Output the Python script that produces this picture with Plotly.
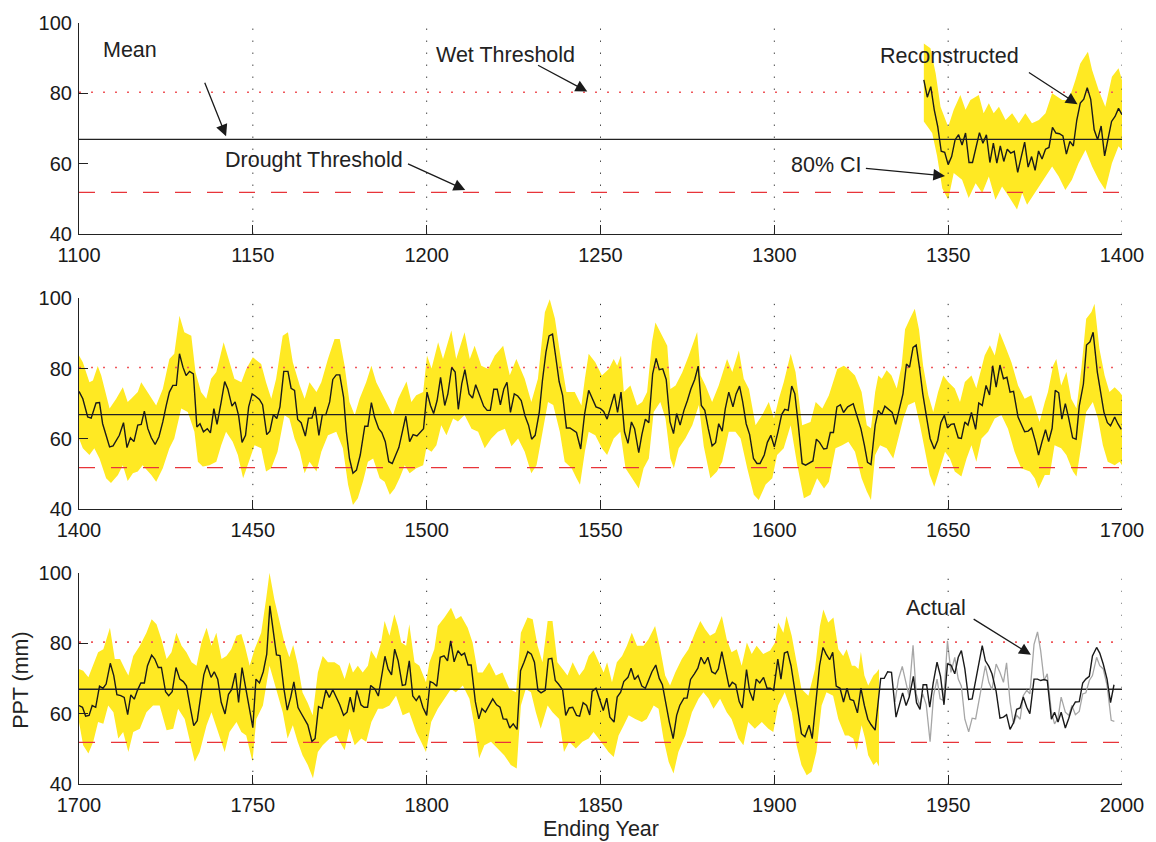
import plotly.graph_objects as go

# ---------------- thresholds ----------------
MEAN = 66.9
WET = 80.3
DROUGHT = 51.8

# ---------------- panel 1 (1100-1400) ----------------
p1_years = list(range(1343, 1401))
p1_recon = [83.8, 78.9, 81.9, 75.3, 70.5, 63.5, 63.2, 59.7, 62.0, 66.8, 68.2, 65.3, 68.7, 60.3, 60.3,
            64.4, 68.8, 65.8, 68.2, 60.3, 65.8, 60.1, 65.0, 60.6, 64.1, 63.0, 63.5, 57.5, 61.8, 66.1,
            59.0, 62.0, 58.1, 63.6, 61.3, 64.1, 64.6, 70.3, 68.7, 68.5, 67.9, 62.7, 66.3, 65.0, 72.4,
            77.2, 78.3, 81.6, 78.3, 69.6, 66.8, 70.7, 62.2, 67.2, 72.0, 73.4, 75.7, 73.9]
p1_up_years = [1343, 1344.9, 1346.4, 1347.8, 1350, 1351.6, 1353.5, 1355, 1356.4, 1358.8, 1360.2, 1361.7,
               1363.1, 1364.6, 1366.5, 1368.4, 1370.3, 1372.2, 1374.1, 1376.1, 1378, 1379.9, 1382.8,
               1384.7, 1386.6, 1388, 1390.2, 1391.4, 1393.3, 1395.2, 1397.1, 1399, 1400]
p1_upper = [94.2, 92.8, 85.7, 76.2, 70.5, 75.3, 79.5, 75.3, 78.1, 79.5, 74.3, 77.2, 74.3, 76.2, 72.4,
            74.3, 71.5, 74.3, 71.5, 72.4, 74.3, 80.0, 78.1, 78.1, 83.8, 88.5, 91.8, 86.6, 80.9, 76.2,
            84.7, 87.1, 83.8]
p1_lo_years = [1343, 1345.4, 1346.8, 1348.3, 1350, 1351.6, 1354, 1355.9, 1357.9, 1359.8, 1361.7, 1363.6,
               1365.5, 1367.4, 1369.8, 1371.3, 1372.7, 1374.1, 1376.1, 1378, 1379.9, 1381.8, 1383.7,
               1385.6, 1387.5, 1389.5, 1391.4, 1393.3, 1395.2, 1397.1, 1399, 1400]
p1_lower = [72.0, 68.7, 62.2, 53.0, 49.7, 57.3, 55.4, 50.2, 54.4, 51.6, 56.3, 49.7, 53.5, 50.7, 46.9,
            51.6, 48.3, 50.7, 53.5, 56.3, 59.2, 56.3, 52.5, 55.4, 60.1, 63.9, 59.2, 55.4, 52.5, 60.1,
            64.9, 63.9]

# ---------------- panel 2 (1400-1700) ----------------
p2_years = [1400.0, 1401.1, 1402.5, 1403.5, 1404.9, 1405.9, 1406.8, 1408.8, 1409.8, 1411.6, 1412.8, 1413.8,
            1414.8, 1415.8, 1416.9, 1417.9, 1418.8, 1419.8, 1420.8, 1421.9, 1423.0, 1424.1, 1425.1, 1426.0,
            1427.0, 1428.0, 1428.9, 1429.9, 1430.8, 1431.8, 1432.9, 1433.9, 1434.8, 1435.8, 1436.9, 1437.8,
            1438.8, 1439.7, 1440.9, 1441.9, 1442.8, 1444.0, 1444.9, 1445.9, 1446.9, 1447.9, 1448.8, 1449.8,
            1450.7, 1451.9, 1452.8, 1454.0, 1454.9, 1455.9, 1456.9, 1457.8, 1458.9, 1460.1, 1461.0, 1462.0,
            1462.9, 1463.9, 1465.1, 1466.0, 1467.0, 1467.9, 1469.0, 1470.0, 1471.0, 1472.1, 1473.0, 1474.0,
            1475.0, 1476.1, 1476.9, 1477.8, 1478.8, 1479.8, 1480.9, 1482.2, 1483.1, 1484.1, 1485.0, 1486.2,
            1487.1, 1488.1, 1489.1, 1490.1, 1491.1, 1492.0, 1493.0, 1494.0, 1495.1, 1496.1, 1497.2, 1498.2,
            1499.1, 1500.1, 1501.1, 1502.0, 1503.0, 1504.0, 1505.2, 1506.1, 1507.2, 1508.2, 1509.1, 1510.1,
            1511.0, 1512.2, 1513.2, 1514.1, 1515.3, 1516.4, 1517.4, 1518.3, 1519.3, 1520.3, 1521.2, 1522.2,
            1523.1, 1524.1, 1525.2, 1526.2, 1527.2, 1528.3, 1529.3, 1530.2, 1531.2, 1532.4, 1533.3, 1534.3,
            1535.2, 1536.2, 1537.1, 1538.1, 1539.1, 1540.2, 1541.2, 1542.1, 1543.1, 1544.3, 1545.4, 1546.6,
            1547.6, 1548.7, 1550.0, 1550.9, 1551.9, 1552.8, 1554.0, 1554.9, 1555.9, 1556.9, 1557.9, 1558.9,
            1559.8, 1561.0, 1561.9, 1562.9, 1563.9, 1565.0, 1566.0, 1566.9, 1567.9, 1568.9, 1570.0, 1571.0,
            1571.9, 1572.9, 1574.0, 1575.0, 1576.0, 1577.1, 1578.1, 1579.0, 1580.0, 1581.0, 1582.1, 1583.1,
            1584.0, 1585.0, 1585.9, 1586.9, 1588.1, 1589.0, 1590.0, 1590.9, 1591.9, 1592.9, 1594.0, 1595.0,
            1595.9, 1597.1, 1598.0, 1599.0, 1600.0, 1601.1, 1602.1, 1603.0, 1604.0, 1605.0, 1605.9, 1606.9,
            1608.0, 1609.0, 1609.9, 1611.1, 1612.1, 1613.0, 1614.2, 1615.1, 1616.1, 1617.0, 1618.0, 1619.0,
            1619.9, 1621.1, 1622.7, 1623.7, 1624.9, 1625.9, 1626.8, 1627.8, 1629.0, 1629.9, 1630.9, 1631.8,
            1633.0, 1633.9, 1634.9, 1635.8, 1637.0, 1638.0, 1638.9, 1639.9, 1640.8, 1641.8, 1642.7, 1643.7,
            1644.8, 1646.0, 1647.0, 1647.9, 1648.9, 1649.8, 1650.8, 1651.7, 1652.9, 1653.8, 1654.8, 1655.7,
            1656.7, 1657.9, 1658.8, 1659.8, 1660.9, 1661.9, 1662.8, 1663.8, 1664.9, 1665.9, 1666.9, 1667.8,
            1668.8, 1670.1, 1671.1, 1672.0, 1673.0, 1674.0, 1675.1, 1676.0, 1677.0, 1678.0, 1678.9, 1679.9,
            1680.8, 1681.8, 1682.7, 1683.7, 1684.6, 1685.8, 1686.8, 1687.7, 1688.9, 1689.8, 1690.8, 1691.7,
            1692.9, 1693.8, 1694.8, 1695.8, 1696.7, 1697.9, 1698.8, 1699.8]
p2_recon = [73.5, 71.4, 66.2, 65.9, 70.2, 70.3, 64.3, 57.7, 58.0, 61.0, 64.6, 57.5,
            60.3, 59.2, 63.9, 64.1, 67.9, 62.9, 60.3, 58.4, 60.6, 64.8, 69.5, 73.3,
            75.2, 75.2, 84.2, 80.4, 78.0, 79.2, 78.5, 63.4, 64.3, 62.0, 62.9, 61.7,
            68.6, 64.1, 70.5, 76.3, 74.2, 69.3, 70.5, 66.7, 59.0, 61.0, 69.1, 72.8,
            72.2, 71.2, 69.7, 61.2, 62.2, 66.9, 65.8, 69.1, 79.2, 79.2, 74.4, 73.8,
            65.5, 64.6, 60.8, 65.9, 65.9, 69.1, 61.0, 66.9, 66.9, 70.5, 76.9, 78.2,
            78.2, 71.9, 62.0, 54.4, 50.2, 51.1, 55.4, 63.6, 63.6, 70.3, 66.2, 62.9,
            61.8, 59.2, 53.5, 53.0, 55.4, 57.5, 62.0, 66.5, 59.2, 61.2, 60.8, 62.0,
            62.9, 73.3, 69.5, 67.2, 70.9, 77.5, 69.5, 72.8, 80.3, 79.0, 68.4, 75.7,
            79.7, 72.8, 71.6, 75.4, 71.9, 69.3, 68.1, 68.1, 74.1, 74.1, 69.7, 74.2,
            76.1, 67.5, 72.8, 72.2, 70.9, 66.5, 63.9, 59.9, 61.0, 67.6, 76.6, 84.6,
            89.3, 89.8, 83.5, 76.3, 72.4, 63.1, 63.1, 62.5, 61.8, 57.1, 66.9, 73.8,
            71.4, 69.1, 68.6, 67.8, 65.6, 68.4, 72.8, 67.5, 73.3, 62.0, 58.7, 64.8,
            62.9, 56.1, 61.2, 65.6, 64.6, 78.5, 82.9, 79.7, 79.9, 76.9, 64.8, 61.5,
            67.2, 63.9, 68.1, 70.9, 74.2, 76.9, 80.7, 69.5, 68.1, 62.9, 58.0, 58.9,
            64.3, 62.2, 68.6, 73.3, 69.1, 72.8, 75.0, 70.5, 64.3, 61.2, 54.4, 53.0,
            53.0, 55.4, 59.0, 61.0, 57.7, 62.2, 66.9, 68.4, 68.1, 75.0, 72.8, 63.9,
            53.0, 52.5, 53.0, 53.7, 59.9, 59.0, 57.1, 57.3, 61.8, 61.8, 69.1, 69.7,
            67.5, 69.1, 70.0, 66.7, 62.9, 58.2, 53.3, 52.7, 63.9, 68.1, 66.9, 69.3,
            68.4, 67.5, 64.1, 67.5, 72.8, 81.3, 80.4, 86.0, 86.7, 79.9, 72.8, 66.7,
            60.1, 57.1, 59.6, 64.6, 66.7, 63.1, 64.1, 64.3, 60.3, 60.1, 64.8, 63.9,
            67.5, 62.7, 70.2, 69.5, 75.2, 72.5, 80.8, 74.7, 81.0, 77.1, 77.5, 73.3,
            73.5, 66.2, 63.9, 62.0, 62.2, 63.1, 59.2, 55.4, 59.2, 62.6, 59.2, 63.0,
            73.8, 73.1, 65.6, 70.0, 66.2, 60.3, 59.9, 69.3, 75.6, 86.7, 87.6, 90.3,
            79.0, 73.3, 67.6, 64.6, 63.7, 66.2, 64.3, 62.7]
p2_up_years = [1400, 1401.1, 1403, 1404, 1405.4, 1406.4, 1408.8, 1410.7, 1412.6, 1414, 1415, 1416.9, 1417.9,
               1420.3, 1422.2, 1424.1, 1426, 1427.4, 1428.9, 1430.3, 1432.3, 1433.5, 1435.1, 1436.6, 1438,
               1439.5, 1441.6, 1443.3, 1444.7, 1446.7, 1448.1, 1450, 1452.4, 1453.8, 1455.3, 1456.7, 1458.6,
               1460.1, 1461.5, 1463.5, 1464.9, 1466.3, 1468.3, 1469.7, 1471.6, 1473.5, 1475, 1476.4, 1477.8,
               1479.3, 1480.7, 1482.6, 1484.1, 1485.5, 1486.9, 1488.9, 1490.3, 1491.8, 1494.2, 1495.6, 1497,
               1499, 1500.1, 1501.4, 1503.3, 1504.7, 1507.1, 1508.5, 1510.9, 1512.4, 1513.8, 1515.7, 1517.7,
               1519.6, 1522, 1523.9, 1525.8, 1528.2, 1530.1, 1532, 1534, 1535.4, 1536.9, 1538.3, 1540.2,
               1542.6, 1544.5, 1545.5, 1546.6, 1548.5, 1550.4, 1552.4, 1553.8, 1554.8, 1555.9, 1556.7,
               1558.6, 1560.5, 1562, 1563.4, 1564.8, 1565.8, 1567.7, 1569.2, 1570.1, 1571.6, 1573.5, 1575.4,
               1577.8, 1578.8, 1580.2, 1582.1, 1584, 1586.4, 1587.9, 1589.8, 1591.2, 1592.7, 1594.6, 1596.5,
               1598.4, 1599.9, 1601.3, 1602.7, 1604.7, 1606.1, 1608, 1610.4, 1611.9, 1613.8, 1615.7, 1618.1,
               1620, 1621.3, 1623.2, 1625.1, 1626.6, 1627.8, 1629, 1629.9, 1630.9, 1632.3, 1633.7, 1635.2,
               1636.6, 1637.6, 1639, 1640.4, 1641.6, 1642.8, 1644.3, 1645.7, 1647.1, 1648.6, 1650, 1651.9,
               1653.4, 1654.8, 1656.7, 1658.1, 1660.5, 1662, 1663.4, 1664.8, 1666.3, 1668.2, 1670.1, 1672,
               1673.9, 1675.4, 1676.3, 1677.8, 1678.7, 1680.2, 1681.1, 1682.5, 1684, 1685.4, 1686.9, 1688.3,
               1689.7, 1691.2, 1692.1, 1693.5, 1695, 1696.4, 1697.9, 1699.3, 1700]
p2_upper = [83.7, 81.8, 76.1, 76.6, 80.7, 78.0, 68.6, 71.4, 74.7, 70.5, 71.4, 73.3, 76.1,
            72.4, 69.5, 74.2, 82.7, 84.2, 95.0, 90.3, 89.3, 79.0, 73.3, 71.4, 77.1,
            79.0, 87.5, 81.8, 77.1, 76.1, 79.9, 83.2, 81.3, 76.1, 71.4, 77.1, 89.3,
            90.3, 81.8, 75.2, 71.4, 76.1, 73.3, 76.1, 82.7, 88.4, 88.4, 80.8, 70.5,
            66.7, 71.4, 76.1, 80.8, 76.1, 73.3, 69.5, 66.7, 71.4, 76.3, 70.5, 72.4,
            73.3, 83.7, 80.0, 87.5, 82.7, 90.8, 82.7, 90.3, 82.7, 86.5, 80.8, 79.9,
            83.7, 86.5, 78.1, 82.7, 77.1, 70.5, 77.1, 96.0, 99.7, 94.2, 84.7, 73.3,
            73.3, 69.5, 77.1, 84.2, 81.8, 78.0, 79.9, 82.7, 80.8, 83.7, 73.3,
            75.2, 69.5, 70.5, 73.3, 87.5, 93.1, 89.3, 86.5, 74.2, 75.2, 78.9, 83.7,
            90.4, 78.0, 75.2, 70.5, 75.2, 82.7, 79.0, 85.1, 77.1, 74.2, 63.9, 66.8,
            70.5, 65.8, 71.4, 76.1, 84.2, 79.0, 63.9, 64.8, 70.5, 68.6, 72.4, 79.9,
            80.8, 79.9, 78.0, 73.3, 63.9, 63.0, 73.3, 78.0, 77.1, 79.5, 78.0, 74.3,
            80.8, 91.2, 94.2, 97.0, 91.2, 80.8, 72.4, 67.6, 73.3, 78.0, 76.2, 74.3,
            70.5, 76.2, 78.0, 74.4, 83.7, 86.6, 83.7, 90.3, 86.6, 81.8, 75.2, 71.4,
            72.4, 67.7, 64.8, 70.5, 73.3, 80.9, 82.7, 75.2, 79.0, 71.4, 68.6, 79.9,
            94.2, 96.1, 98.4, 85.6, 78.0, 73.3, 74.7, 73.3, 72.4]
p2_lo_years = [1400, 1401.1, 1403, 1404.4, 1405.9, 1407.8, 1409.2, 1411.2, 1412.6, 1414, 1415.5, 1416.9,
               1418.3, 1420.8, 1422.2, 1424.1, 1426, 1427.4, 1429.4, 1431.3, 1433.2, 1434.2, 1435.6, 1437.5,
               1439.5, 1440.9, 1442.3, 1444.2, 1445.7, 1447.2, 1448.6, 1450.5, 1452.4, 1453.8, 1455.3,
               1457.1, 1459.1, 1460.5, 1462, 1463.5, 1464.9, 1466.3, 1468.3, 1469.7, 1471.6, 1474, 1475.9,
               1477.4, 1478.8, 1480.2, 1481.7, 1483.1, 1484.6, 1486.5, 1487.9, 1489.4, 1490.8, 1492.2,
               1493.7, 1495.1, 1497, 1499, 1499.9, 1501.4, 1502.8, 1504.2, 1505.7, 1507.6, 1509, 1510.9,
               1512.9, 1514.8, 1516.7, 1518.6, 1520.5, 1522.5, 1524.4, 1526.3, 1528.2, 1530.1, 1531.6,
               1533.5, 1534.9, 1536.4, 1538.3, 1539.7, 1541.7, 1543.1, 1544.1, 1545.5, 1546.6, 1548.5,
               1550.4, 1551.9, 1553.8, 1555.7, 1557.2, 1559.1, 1561, 1562.4, 1563.9, 1565.3, 1567.2, 1568.7,
               1570.1, 1571.1, 1572.5, 1574.4, 1576.4, 1578.3, 1579.7, 1581.6, 1583.5, 1585, 1586.9, 1588.8,
               1590.3, 1592.2, 1594.1, 1595.5, 1597.5, 1599.4, 1600.8, 1602.7, 1604.7, 1606.6, 1608.5,
               1610.4, 1612.3, 1614.3, 1615.7, 1617.6, 1619.5, 1621.3, 1623.2, 1625.1, 1626.6, 1627.8, 1629,
               1630.4, 1632.3, 1634.2, 1635.7, 1637.1, 1638.5, 1640.4, 1641.9, 1643.3, 1644.7, 1646, 1647.6,
               1649.1, 1650.5, 1651.9, 1653.8, 1655.3, 1656.7, 1658.1, 1659.6, 1661.5, 1663.4, 1665.3,
               1667.2, 1669.1, 1671, 1673.5, 1674.9, 1676, 1677.8, 1679.2, 1680.6, 1682.5, 1684, 1685.9,
               1686.9, 1688.3, 1689.7, 1691.6, 1693.1, 1694.5, 1695.9, 1697.9, 1699.3, 1700]
p2_lower = [60.1, 57.3, 55.4, 57.3, 54.4, 48.8, 47.4, 49.7, 52.5, 48.0, 50.2, 50.7,
            52.5, 49.7, 47.8, 51.6, 57.3, 60.1, 68.6, 67.6, 62.0, 53.5, 52.1, 52.5,
            53.5, 58.2, 62.0, 59.2, 55.4, 48.8, 52.5, 58.2, 57.3, 50.7, 51.6,
            56.3, 66.7, 65.8, 60.1, 56.3, 50.2, 53.5, 50.7, 56.3, 61.0, 62.0, 57.3,
            46.9, 41.2, 43.1, 47.9, 53.5, 54.4, 48.8, 47.8, 44.1, 45.9, 48.8,
            52.5, 50.2, 51.6, 52.5, 57.3, 56.3, 58.2, 63.9, 61.0, 65.8, 64.9, 66.8,
            62.9, 62.0, 57.3, 60.1, 62.0, 62.9, 57.9, 60.1, 56.3, 50.2, 52.5,
            62.9, 70.5, 69.6, 62.0, 53.5, 51.6, 48.8, 46.9, 56.3, 62.0, 61.0,
            57.3, 55.4, 60.1, 62.0, 51.6, 48.8, 45.9, 51.6, 54.4, 67.6, 70.5, 65.8,
            54.4, 51.6, 57.3, 60.1, 63.9, 69.6, 57.9, 48.8, 50.7, 53.5, 62.0, 62.0,
            60.1, 51.6, 44.1, 42.6, 47.0, 48.8, 55.4, 57.3, 63.9, 52.5, 43.1,
            44.1, 48.8, 45.9, 47.8, 57.3, 58.2, 59.2, 56.3, 48.8, 45.0, 42.6, 55.4,
            58.2, 57.3, 54.4, 60.1, 65.8, 69.6, 70.5, 63.9, 57.3, 49.7, 46.4, 51.6,
            56.3, 54.4, 50.7, 49.3, 54.4, 58.2, 53.5, 60.1, 62.0, 65.8, 66.8,
            62.9, 56.3, 51.6, 50.7, 48.8, 45.9, 49.7, 49.7, 58.2, 57.3, 55.4, 50.7,
            49.3, 58.2, 67.6, 70.5, 65.8, 58.2, 53.5, 52.5, 53.5, 52.5]

# ---------------- panel 3 (1700-2000) ----------------
p3_years = [1700.0, 1701.0, 1701.9, 1702.9, 1703.8, 1704.8, 1705.9, 1706.9, 1707.8, 1709.0, 1710.0, 1710.9,
            1712.0, 1713.0, 1714.0, 1714.9, 1715.9, 1716.8, 1717.8, 1718.8, 1719.7, 1720.9, 1721.8, 1722.8,
            1723.7, 1724.9, 1725.8, 1726.8, 1727.9, 1729.0, 1730.0, 1730.9, 1732.1, 1733.0, 1734.0, 1734.9,
            1735.9, 1736.8, 1738.0, 1738.9, 1739.9, 1740.9, 1742.0, 1743.0, 1743.9, 1745.0, 1745.9, 1746.9,
            1747.8, 1748.8, 1750.0, 1750.9, 1751.9, 1753.0, 1754.0, 1754.9, 1755.9, 1756.8, 1757.8, 1758.9,
            1759.9, 1760.9, 1761.8, 1763.0, 1763.9, 1764.9, 1765.8, 1767.0, 1767.9, 1768.9, 1769.9, 1771.0,
            1772.0, 1773.0, 1774.0, 1775.0, 1776.1, 1777.1, 1778.0, 1779.0, 1779.9, 1781.1, 1782.0, 1783.0,
            1783.9, 1785.1, 1786.1, 1787.0, 1788.0, 1788.9, 1789.9, 1790.8, 1791.8, 1793.0, 1793.9, 1795.0,
            1796.0, 1797.0, 1797.9, 1798.9, 1800.0, 1801.0, 1801.9, 1802.9, 1803.9, 1805.0, 1806.0, 1806.9,
            1807.9, 1809.0, 1810.0, 1810.9, 1811.9, 1812.8, 1814.0, 1815.0, 1815.9, 1816.9, 1818.0, 1819.0,
            1820.1, 1821.1, 1822.0, 1823.0, 1823.9, 1824.9, 1826.0, 1827.0, 1828.0, 1829.1, 1830.1, 1831.0,
            1832.0, 1832.9, 1834.1, 1835.0, 1836.0, 1837.0, 1837.9, 1839.1, 1840.0, 1841.0, 1842.0, 1843.1,
            1844.0, 1845.0, 1846.0, 1846.9, 1847.6, 1848.7, 1849.7, 1850.8, 1851.8, 1852.7, 1853.9, 1854.8,
            1855.8, 1856.7, 1857.9, 1858.8, 1859.8, 1860.8, 1861.9, 1862.9, 1863.8, 1864.8, 1865.9, 1866.9,
            1867.8, 1868.8, 1869.8, 1870.9, 1871.9, 1872.8, 1874.0, 1874.9, 1875.9, 1877.0, 1878.0, 1878.9,
            1879.9, 1880.9, 1882.0, 1883.0, 1883.9, 1884.9, 1885.8, 1887.0, 1887.9, 1888.9, 1889.9, 1890.8,
            1892.0, 1892.9, 1893.9, 1894.8, 1895.8, 1896.9, 1897.9, 1898.8, 1899.8, 1901.0, 1901.9, 1902.9,
            1903.8, 1904.8, 1905.9, 1906.9, 1907.8, 1908.8, 1910.0, 1910.9, 1911.9, 1913.0, 1914.0, 1914.9,
            1915.9, 1916.8, 1917.8, 1918.9, 1919.9, 1920.9, 1921.8, 1922.8, 1923.9, 1924.9, 1925.9, 1926.9,
            1927.8, 1929.0, 1930.6, 1931.6, 1932.6, 1933.7, 1935.0, 1936.0, 1936.9, 1937.9, 1938.8, 1940.0,
            1940.9, 1941.9, 1942.8, 1943.8, 1944.7, 1945.7, 1946.8, 1947.8, 1948.8, 1949.8, 1950.8, 1951.9,
            1952.9, 1953.8, 1954.8, 1955.9, 1956.9, 1957.9, 1958.8, 1959.8, 1960.7, 1961.7, 1962.6, 1963.8,
            1964.9, 1965.9, 1966.8, 1967.8, 1968.8, 1969.7, 1970.7, 1971.6, 1972.6, 1973.5, 1974.7, 1975.7,
            1976.6, 1977.6, 1978.5, 1979.7, 1980.6, 1981.6, 1982.5, 1983.7, 1984.7, 1985.6, 1986.6, 1987.7,
            1988.7, 1989.6, 1990.6, 1991.5, 1992.7, 1993.6, 1994.6, 1995.7, 1996.7, 1997.7]
p3_recon = [62.3, 61.8, 59.3, 59.5, 62.3, 61.8, 67.8, 67.2, 68.4, 74.3, 70.8, 65.4,
            65.1, 64.6, 59.7, 65.3, 64.1, 66.6, 68.7, 68.7, 73.6, 76.6, 75.5, 73.1,
            73.1, 66.2, 65.1, 66.2, 73.1, 69.8, 69.1, 67.9, 61.3, 56.6, 58.0, 63.7,
            71.0, 73.8, 70.3, 71.9, 69.8, 63.2, 59.9, 65.5, 66.8, 71.5, 63.2, 73.1,
            68.4, 62.8, 56.0, 69.8, 68.7, 71.9, 76.9, 90.6, 82.6, 76.7, 76.5, 67.3,
            61.0, 64.7, 69.0, 61.7, 60.1, 58.2, 56.8, 52.1, 52.9, 62.0, 61.5, 66.7,
            64.6, 66.8, 64.7, 62.5, 59.5, 60.4, 64.7, 60.4, 66.6, 62.5, 61.8, 61.8,
            68.0, 67.0, 65.0, 71.0, 76.3, 72.7, 71.0, 78.3, 75.0, 68.0, 68.2, 75.0,
            65.0, 63.7, 65.1, 61.8, 59.5, 69.1, 68.7, 67.8, 76.0, 76.4, 75.0, 80.7,
            74.7, 77.9, 76.6, 77.2, 73.8, 73.8, 63.4, 58.5, 61.4, 60.4, 62.5, 64.2,
            62.5, 61.8, 58.5, 58.4, 55.9, 57.1, 55.5, 72.2, 74.6, 77.6, 76.9, 74.6,
            66.6, 65.9, 66.6, 75.5, 75.7, 69.4, 68.4, 66.8, 59.5, 61.6, 61.8, 59.5,
            59.3, 63.1, 62.3, 59.6, 66.3, 67.2, 64.2, 60.9, 64.4, 59.0, 57.6, 64.7,
            66.1, 69.1, 70.3, 72.9, 69.7, 70.8, 67.8, 67.2, 69.4, 71.9, 73.8, 70.0,
            68.2, 62.3, 57.6, 52.9, 59.5, 62.3, 64.4, 64.4, 69.7, 71.3, 72.9, 76.0,
            74.1, 76.0, 71.9, 71.3, 72.7, 77.6, 73.6, 67.5, 68.9, 68.2, 63.4, 61.6,
            72.5, 66.3, 63.7, 69.8, 68.7, 70.3, 67.2, 67.2, 66.6, 75.5, 69.8, 77.2,
            77.6, 73.6, 66.6, 59.5, 54.3, 53.4, 56.7, 52.9, 62.3, 73.6, 78.8, 76.9,
            75.3, 77.4, 67.8, 67.2, 63.3, 67.2, 64.0, 63.7, 60.2, 67.2, 62.3, 58.4,
            56.9, 55.3, 70.0, 70.0, 71.9, 71.7, 59.0, 62.3, 65.9, 62.3, 64.7, 70.6,
            63.1, 61.2, 68.2, 68.2, 61.8, 68.7, 74.6, 70.6, 62.5, 74.1, 73.8, 71.3,
            76.0, 77.9, 72.7, 64.0, 64.2, 69.4, 73.8, 79.3, 75.0, 73.4, 71.3, 66.3,
            58.7, 59.0, 59.7, 55.5, 57.4, 61.2, 61.6, 64.7, 61.8, 60.0, 69.8, 69.8,
            69.4, 69.7, 69.4, 58.4, 60.4, 57.6, 60.4, 55.9, 58.7, 61.6, 63.3, 63.4,
            68.7, 69.8, 70.6, 76.4, 78.8, 77.2, 74.1, 69.8, 63.1, 68.2]
p3_up_years = [1700, 1701.2, 1702.7, 1704.1, 1705.5, 1707, 1708.9, 1710.3, 1711.8, 1713.2, 1714.2, 1715.6,
               1717.5, 1719.4, 1720.9, 1722.3, 1723.7, 1725.2, 1726.6, 1728, 1729.5, 1730.9, 1732.4, 1733.8,
               1735.2, 1736.7, 1738.1, 1739.5, 1741, 1742.4, 1743.8, 1745.3, 1746.7, 1747.7, 1749.1, 1750.5,
               1752.4, 1753.8, 1754.8, 1756.2, 1757.6, 1759.1, 1760.5, 1761.6, 1762.9, 1764.3, 1765.8, 1767.2,
               1768.7, 1770.1, 1771.6, 1773.5, 1775, 1776.4, 1777.8, 1778.8, 1780.2, 1781.6, 1783.1, 1784,
               1785.5, 1786.9, 1787.9, 1789.3, 1790.7, 1791.7, 1792.7, 1794.1, 1795, 1796.5, 1797.9, 1799.8,
               1800.8, 1802.2, 1803.2, 1805.1, 1807, 1808.4, 1809.9, 1811.8, 1813.2, 1814.7, 1816.1, 1818,
               1819.9, 1821.8, 1823.8, 1825.7, 1827.1, 1829, 1830.5, 1831.9, 1833.3, 1834.8, 1836.2, 1837.6,
               1839.1, 1840.5, 1842, 1843.9, 1845.3, 1846.6, 1848, 1849.5, 1850.9, 1851.9, 1853.3, 1854.7,
               1856.2, 1857.6, 1859, 1860.5, 1862.4, 1863.8, 1865.7, 1867.2, 1868.6, 1870, 1871.5, 1873.4,
               1875.3, 1877.2, 1878.7, 1880.1, 1881.5, 1883, 1884.9, 1886.3, 1887.7, 1889.2, 1890.6, 1892.1,
               1893.5, 1894.9, 1896.8, 1898.8, 1900.2, 1901.1, 1902.6, 1903.5, 1905, 1906.4, 1907.8, 1909.8,
               1911.7, 1913.1, 1914.1, 1915.5, 1917, 1918.4, 1919.8, 1920.8, 1922.3, 1923.2, 1924.2, 1924.9,
               1925.9, 1927, 1928.5, 1929.4, 1930.1]
p3_upper = [72.7, 72.2, 70.3, 73.6, 77.4, 78.3, 84.4, 75.5, 75.5, 72.7, 70.8, 76.4,
            79.3, 83.0, 86.8, 85.4, 81.1, 75.5, 77.4, 83.0, 79.3, 77.4, 74.6, 73.6,
            80.2, 84.4, 79.3, 83.0, 75.5, 76.4, 78.3, 82.1, 82.6, 79.3, 73.6, 78.3,
            83.0, 92.4, 100.0, 92.4, 86.8, 80.2, 76.0, 79.5, 74.0, 66.0, 63.0, 59.5,
            71.7, 76.4, 74.6, 74.6, 73.6, 69.8, 74.6, 71.7, 73.6, 71.7, 73.6, 77.9,
            75.5, 80.2, 86.3, 82.1, 88.2, 84.9, 80.2, 79.3, 85.4, 74.6, 73.6, 68.9,
            74.6, 78.3, 84.9, 87.3, 90.1, 86.8, 87.7, 84.4, 80.2, 71.7, 71.7, 74.6,
            70.8, 71.7, 67.0, 66.1, 83.0, 87.3, 86.8, 79.3, 74.6, 86.3, 86.3, 74.6,
            72.7, 70.8, 74.6, 70.8, 72.7, 76.4, 77.9, 74.6, 71.7, 74.6, 68.9, 74.6,
            76.4, 79.3, 83.0, 79.3, 79.3, 81.1, 84.9, 78.3, 70.8, 68.0, 71.7, 75.5,
            78.3, 83.0, 86.3, 84.0, 82.1, 83.0, 87.7, 81.1, 77.4, 78.3, 73.6, 80.2,
            76.9, 79.3, 76.9, 77.9, 80.2, 85.9, 83.0, 87.7, 82.1, 74.6, 67.0, 65.1,
            72.7, 84.9, 89.6, 85.9, 87.3, 78.3, 76.4, 78.3, 73.6, 73.6, 72.7, 77.6,
            70.8, 68.0, 70.8, 71.7, 72.7]
p3_lo_years = [1700, 1701.2, 1702.7, 1704.1, 1705.5, 1707, 1708.4, 1709.9, 1711.3, 1712.7, 1714.2, 1715.6,
               1717.5, 1719.4, 1721.3, 1723.2, 1725.2, 1727.1, 1728.5, 1730.4, 1731.9, 1733.3, 1734.7,
               1736.7, 1738.1, 1740, 1741.9, 1743.3, 1745.3, 1746.7, 1748.1, 1749.9, 1751, 1752.9, 1754.8,
               1756.7, 1758.6, 1760, 1761.5, 1762.9, 1764.3, 1765.8, 1767.3, 1768.7, 1770.1, 1772.1, 1774,
               1776.4, 1777.8, 1779.3, 1781.2, 1782.6, 1784.1, 1786, 1787.4, 1789.3, 1791.2, 1793.1, 1795,
               1797, 1798.4, 1799.8, 1801.3, 1803.2, 1805.1, 1807, 1808.4, 1810.4, 1812.3, 1813.7, 1815.1,
               1816.6, 1818.5, 1820.4, 1822.3, 1824.2, 1825.9, 1827.1, 1828.5, 1830, 1831.4, 1832.8, 1834.8,
               1836.2, 1838.1, 1839.5, 1841, 1842.9, 1844.8, 1846.6, 1848, 1849.5, 1850.9, 1852.3, 1853.8,
               1855.2, 1856.7, 1858.1, 1860, 1861.9, 1863.3, 1865.3, 1866.7, 1868.1, 1869.6, 1871, 1872.4,
               1874.4, 1876.3, 1878.2, 1879.6, 1881.1, 1882.5, 1884.4, 1886.3, 1887.7, 1889.7, 1891.1,
               1892.5, 1894.4, 1896.4, 1898.3, 1899.7, 1901.1, 1903, 1905, 1906.4, 1907.8, 1909.3, 1910.7,
               1912.1, 1913.6, 1915, 1916.9, 1918.4, 1920.3, 1921.3, 1922.7, 1923.7, 1925.1, 1926.1, 1927,
               1928.5, 1929.4, 1930.1]
p3_lower = [57.6, 51.0, 48.7, 52.0, 57.6, 57.1, 62.3, 60.4, 52.9, 54.8, 49.1, 54.8,
            55.7, 60.4, 62.3, 62.3, 55.3, 55.7, 61.4, 58.5, 52.0, 46.3, 49.1,
            56.7, 60.4, 54.8, 49.1, 54.8, 57.6, 54.8, 53.8, 46.3, 58.5, 62.3, 73.6,
            67.0, 60.4, 52.9, 56.7, 52.0, 48.2, 45.4, 41.6, 49.1, 51.0, 52.9, 53.8,
            49.6, 55.7, 51.0, 52.9, 52.0, 57.6, 61.4, 61.4, 62.3, 65.1, 59.5, 60.4,
            54.8, 52.0, 49.1, 57.6, 61.4, 64.2, 67.0, 66.1, 68.0, 64.2, 56.7, 47.3,
            51.0, 52.0, 50.1, 48.2, 45.4, 44.4, 62.3, 67.0, 66.1, 60.4, 55.7, 62.3,
            60.4, 58.5, 49.1, 52.0, 50.1, 52.0, 52.9, 54.8, 52.9, 51.0, 49.1, 47.7,
            53.8, 56.7, 59.5, 58.5, 57.6, 58.5, 62.3, 61.4, 52.9, 46.3, 43.0, 49.1,
            53.8, 60.4, 64.2, 66.1, 64.2, 61.4, 64.2, 60.4, 58.5, 52.9, 51.0,
            57.6, 55.7, 57.6, 55.7, 54.8, 62.3, 66.1, 60.4, 51.0, 45.4, 42.5, 43.5,
            49.1, 62.3, 66.1, 65.1, 58.5, 53.8, 53.8, 52.9, 49.6, 56.7, 52.9, 48.2,
            45.4, 46.3, 45.0]
p3_actual_years = [1934.7, 1935.7, 1936.8, 1937.8, 1938.7, 1939.9, 1940.8, 1941.8, 1942.7, 1943.7, 1944.8,
                   1945.8, 1946.8, 1947.7, 1948.7, 1949.8, 1950.8, 1951.9, 1952.9, 1953.8, 1954.8, 1955.9,
                   1956.9, 1957.9, 1958.8, 1959.8, 1960.7, 1961.7, 1962.6, 1963.8, 1964.9, 1965.9, 1966.8,
                   1967.8, 1968.8, 1969.7, 1970.7, 1971.6, 1972.6, 1973.5, 1974.7, 1975.7, 1976.6, 1977.6,
                   1978.5, 1979.7, 1980.6, 1981.6, 1982.5, 1983.7, 1984.7, 1985.6, 1986.6, 1987.7, 1988.7,
                   1989.6, 1990.6, 1991.5, 1992.7, 1993.6, 1994.6, 1995.7, 1996.9, 1997.8]
p3_actual = [63.3, 69.8, 73.4, 68.9, 65.1, 79.4, 65.6, 62.3, 65.6, 62.5, 52.0,
             65.1, 69.8, 64.2, 63.7, 80.7, 71.7, 76.0, 69.8, 67.8, 58.4, 54.8,
             58.7, 58.5, 63.3, 69.8, 73.6, 68.9, 66.8, 74.1, 71.7, 68.9, 74.4,
             63.3, 57.1, 59.5, 58.4, 65.1, 66.6, 65.6, 79.7, 83.2, 77.9, 69.4,
             71.3, 60.4, 57.1, 58.7, 64.7, 60.4, 59.5, 62.3, 59.7, 60.6, 65.6,
             65.9, 69.4, 70.8, 76.0, 73.6, 72.7, 68.0, 58.1, 57.8]

x_ranges = [(1100, 1400), (1400, 1700), (1700, 2000)]
y_range = (40, 100)
y_ticks = [40, 60, 80, 100]

# ---------------- styling ----------------
FONT = "Liberation Sans, Arial, Helvetica, sans-serif"
YELLOW = "#FFE923"
RED = "#E8343A"
PINK = "#F0585C"
GRAY = "#A6A6A6"
domains = [(0.7229, 1.0), (0.3612, 0.6383), (0.0, 0.2775)]

panels = [
    (p1_years, p1_recon, p1_up_years, p1_upper, p1_lo_years, p1_lower),
    (p2_years, p2_recon, p2_up_years, p2_upper, p2_lo_years, p2_lower),
    (p3_years, p3_recon, p3_up_years, p3_upper, p3_lo_years, p3_lower),
]

fig = go.Figure()
shapes = []
for i, (yrs, rec, uy, up, ly, lo) in enumerate(panels):
    n = "" if i == 0 else str(i + 1)
    xa, ya = "x" + n, "y" + n
    x0, x1 = x_ranges[i]
    # confidence band
    fig.add_trace(go.Scatter(x=list(uy) + list(ly)[::-1], y=list(up) + list(lo)[::-1],
                             fill="toself", fillcolor=YELLOW, line=dict(width=0), mode="lines",
                             xaxis=xa, yaxis=ya, hoverinfo="skip", showlegend=False))
    # thresholds
    fig.add_trace(go.Scatter(x=[x0, x1], y=[WET, WET], mode="lines",
                             line=dict(color=PINK, width=1.6, dash="2px,10px"),
                             xaxis=xa, yaxis=ya, showlegend=False, hoverinfo="skip"))
    fig.add_trace(go.Scatter(x=[x0, x1], y=[DROUGHT, DROUGHT], mode="lines",
                             line=dict(color=RED, width=1.3, dash="16px,16px"),
                             xaxis=xa, yaxis=ya, showlegend=False, hoverinfo="skip"))
    fig.add_trace(go.Scatter(x=[x0, x1], y=[MEAN, MEAN], mode="lines",
                             line=dict(color="#222222", width=1.4),
                             xaxis=xa, yaxis=ya, showlegend=False, hoverinfo="skip"))
    if i == 2:
        fig.add_trace(go.Scatter(x=p3_actual_years, y=p3_actual, mode="lines",
                                 line=dict(color=GRAY, width=1.3),
                                 xaxis=xa, yaxis=ya, showlegend=False))
    fig.add_trace(go.Scatter(x=yrs, y=rec, mode="lines", line=dict(color="#1a1a1a", width=1.4),
                             xaxis=xa, yaxis=ya, showlegend=False))
    tickvals = list(range(x0, x1 + 1, 50))
    for t in tickvals[1:]:
        shapes.append(dict(type="line", xref=xa, yref=ya + " domain", x0=t, x1=t, y0=0, y1=1,
                           line=dict(color="#333333", width=1, dash="1.3px,10.7px"), layer="above"))
    axis_common = dict(showline=True, linecolor="#222222", linewidth=1.2, ticks="inside",
                       ticklen=9, tickwidth=1, tickcolor="#222222", showgrid=False, zeroline=False,
                       tickfont=dict(family=FONT, size=20, color="#1a1a1a"))
    fig.update_layout(**{
        ("xaxis" + n): dict(domain=[0, 1], range=[x0, x1], tickvals=tickvals, anchor=ya,
                            ticklabelstandoff=3, **axis_common),
        ("yaxis" + n): dict(domain=list(domains[i]), range=list(y_range), tickvals=y_ticks, anchor=xa,
                            ticklabelstandoff=2, **axis_common),
    })

ann = []
TXT_SIZE = 21.5

def txt(t, x, y, xr, yr):
    ann.append(dict(text=t, x=x, y=y, xref=xr, yref=yr, showarrow=False, xanchor="center",
                    yanchor="middle", font=dict(family=FONT, size=TXT_SIZE, color="#222222")))

def arrow(hx, hy, tx, ty, xr, yr):
    ann.append(dict(text="", x=hx, y=hy, ax=tx, ay=ty, xref=xr, yref=yr, axref=xr, ayref=yr,
                    showarrow=True, arrowhead=2, arrowsize=1.8, arrowwidth=1.3, arrowcolor="#1a1a1a",
                    standoff=0, startstandoff=0))

txt("Mean", 1114.7, 92.2, "x", "y")
arrow(1142.3, 67.8, 1136.0, 83.4, "x", "y")
txt("Drought Threshold", 1167.7, 61.0, "x", "y")
arrow(1211.1, 52.5, 1194.2, 60.1, "x", "y")
txt("Wet Threshold", 1222.8, 90.8, "x", "y")
arrow(1246.2, 80.5, 1231.6, 88.2, "x", "y")
txt("Reconstructed", 1350.5, 90.6, "x", "y")
arrow(1387.2, 76.9, 1372.8, 86.2, "x", "y")
txt("80% CI", 1314.9, 59.6, "x", "y")
arrow(1349.1, 56.5, 1325.9, 58.7, "x", "y")
txt("Actual", 1946.6, 90.0, "x3", "y3")
arrow(1973.8, 76.7, 1956.9, 87.1, "x3", "y3")

ann.append(dict(text="Ending Year", x=0.5, y=-0.0588, xref="paper", yref="paper", showarrow=False,
                xanchor="center", yanchor="middle",
                font=dict(family=FONT, size=TXT_SIZE, color="#222222")))
ann.append(dict(text="PPT (mm)", x=-0.0555, y=0.137, xref="paper", yref="paper", showarrow=False,
                textangle=-90, xanchor="center", yanchor="middle",
                font=dict(family=FONT, size=TXT_SIZE, color="#222222")))

fig.update_layout(width=1156, height=842, margin=dict(l=79, r=32, t=19, b=58),
                  paper_bgcolor="white", plot_bgcolor="white", annotations=ann, shapes=shapes,
                  showlegend=False)
fig.write_html("out.html")
